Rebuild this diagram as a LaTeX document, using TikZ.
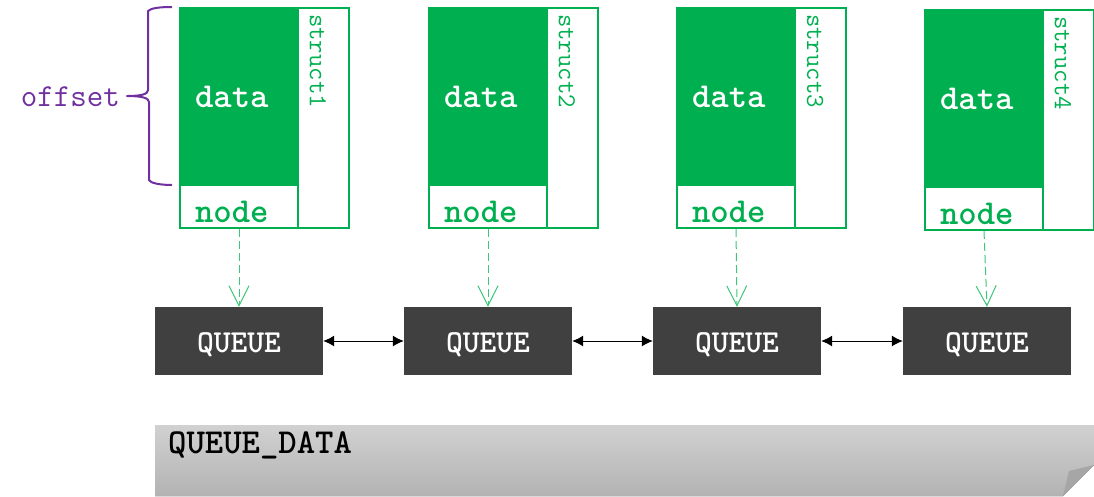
\documentclass[tikz,border=0pt]{standalone}
\usepackage{fontspec}
\usetikzlibrary{arrows.meta}

\definecolor{structgreen}{HTML}{00B050}
\definecolor{linkgreen}{HTML}{3CC77A}
\definecolor{offsetpurple}{HTML}{7030A0}
\definecolor{queuegray}{HTML}{404040}
\definecolor{foldgray}{HTML}{A6A6A6}

\tikzset{
    datafield/.style={draw=structgreen, line width=2pt, fill=structgreen, text=white,
        minimum height=177pt, text width=88pt, inner xsep=15pt, inner ysep=0pt, align=left,
        font=\ttfamily\bfseries\fontsize{35pt}{40pt}\selectfont},
    nodefield/.style={draw=structgreen, line width=2pt, fill=white, text=structgreen,
        minimum height=43pt, text width=88pt, inner xsep=15pt, inner ysep=0pt, align=left,
        text height=31pt, text depth=0pt,
        font=\ttfamily\bfseries\fontsize{35pt}{40pt}\selectfont},
    structcol/.style={draw=structgreen, line width=2pt, minimum width=51pt, minimum height=220pt, inner sep=0pt},
    structlbl/.style={rotate=-90, anchor=west, text=structgreen, inner sep=0pt,
        font=\ttfamily\fontsize{26pt}{30pt}\selectfont},
    queue/.style={fill=queuegray, text=white, minimum width=168pt, minimum height=68pt, inner sep=0pt,
        text height=22pt, text depth=0pt,
        font=\ttfamily\bfseries\fontsize{32pt}{36pt}\selectfont},
    link/.style={draw=linkgreen, line width=1pt, dash pattern=on 8pt off 4pt,
        -{Straight Barb[length=20pt,width=20pt,line width=1pt]}},
    chain/.style={draw=black, line width=1pt, {Latex[length=11pt,width=11pt]}-{Latex[length=11pt,width=11pt]}},
    offsetbrace/.style={draw=offsetpurple, line width=2pt, line join=round},
    offsetlbl/.style={text=offsetpurple, inner sep=0pt,
        font=\ttfamily\fontsize{32pt}{36pt}\selectfont},
    bannerlbl/.style={text=black, inner sep=0pt,
        font=\ttfamily\bfseries\fontsize{35pt}{40pt}\selectfont}
}

\begin{document}
\begin{tikzpicture}[x=1pt,y=-1pt]
    \useasboundingbox (0,0) rectangle (1094,496);

    %%%%%%%%%% Struct %%%%%%%%%%
    \node[structcol] (col1) at (323.5,118) {};
    \node[datafield] (data1) at (239,96.5) {data};
    \node[nodefield] (node1) at (239,206.5) {node};
    \node[structlbl] (struct1) at (318,14) {struct1};

    \node[structcol] (col2) at (572.5,118) {};
    \node[datafield] (data2) at (488,96.5) {data};
    \node[nodefield] (node2) at (488,206.5) {node};
    \node[structlbl] (struct2) at (567,14) {struct2};

    \node[structcol] (col3) at (820.5,118) {};
    \node[datafield] (data3) at (736,96.5) {data};
    \node[nodefield] (node3) at (736,206.5) {node};
    \node[structlbl] (struct3) at (815,14) {struct3};

    \node[structcol] (col4) at (1068,120) {};
    \node[datafield] (data4) at (984,98.5) {data};
    \node[nodefield] (node4) at (984,208.5) {node};
    \node[structlbl] (struct4) at (1063,16) {struct4};

    %%%%%%%%%% Offset %%%%%%%%%%
    \draw[offsetbrace] (172,7) .. controls (160,7) and (151,8) .. (148,11)
        -- (148,90) .. controls (148,94) and (142,96) .. (127,96)
        .. controls (142,96) and (149,98) .. (149,102)
        -- (149,180) .. controls (150,183) and (160,185) .. (172,185);
    \node[offsetlbl, anchor=east] (offset) at (120,97) {offset};

    %%%%%%%%%% Queue %%%%%%%%%%
    \node[queue] (queue1) at (239,341) {QUEUE};
    \node[queue] (queue2) at (488,341) {QUEUE};
    \node[queue] (queue3) at (737,341) {QUEUE};
    \node[queue] (queue4) at (987,341) {QUEUE};

    %%%%%%%%% Frecce %%%%%%%%%
    \draw[link] (node1.south) -- (queue1.north);
    \draw[link] (node2.south) -- (queue2.north);
    \draw[link] (node3.south) -- (queue3.north);
    \draw[link] (node4.south) -- (queue4.north);

    \draw[chain] (queue1) -- (queue2);
    \draw[chain] (queue2) -- (queue3);
    \draw[chain] (queue3) -- (queue4);

    %%%%%%%%%% Queue data %%%%%%%%%%
    \fill[top color=black!18, bottom color=black!30]
        (155,425) -- (1094,425) -- (1094,465) -- (1063,496) -- (155,496) -- cycle;
    \fill[foldgray] (1063,496) -- (1069,471) -- (1094,465) -- cycle;
    \node[bannerlbl, anchor=west] (qdata) at (168,445) {QUEUE\_DATA};
\end{tikzpicture}
\end{document}
